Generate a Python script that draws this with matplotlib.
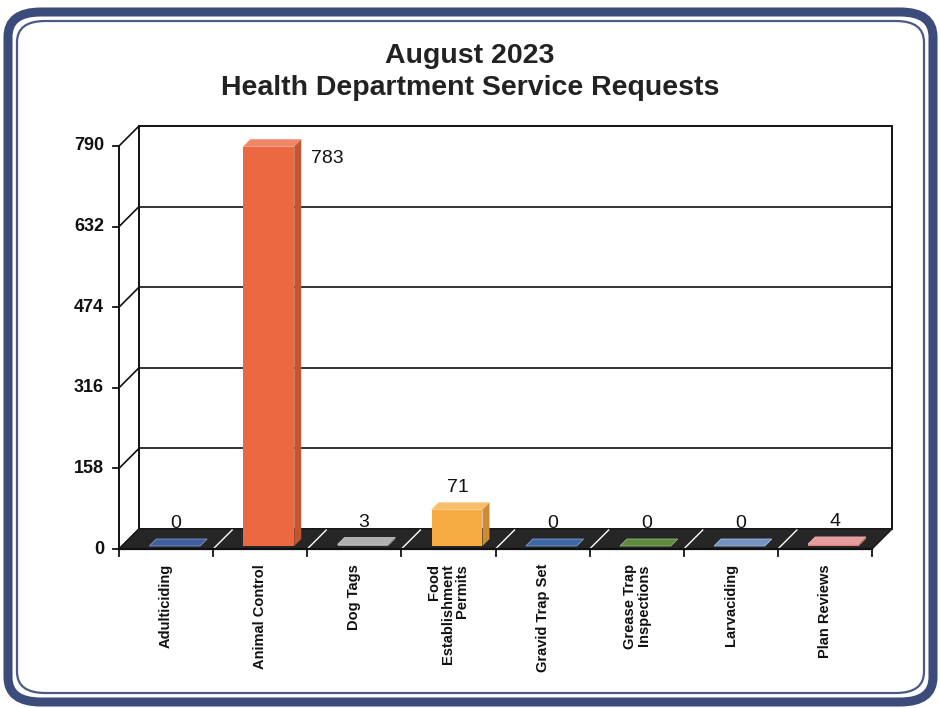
import matplotlib
matplotlib.use("Agg")
import matplotlib.pyplot as plt
import numpy as np
from matplotlib.patches import Polygon, FancyBboxPatch
from matplotlib.lines import Line2D
from matplotlib.transforms import ScaledTranslation, IdentityTransform

plt.rcParams['font.family'] = ['Liberation Sans', 'DejaVu Sans']

title = "August 2023\nHealth Department Service Requests"
categories = ["Adulticiding", "Animal Control", "Dog Tags", "Food\nEstablishment\nPermits",
              "Gravid Trap Set", "Grease Trap\nInspections", "Larvaciding", "Plan Reviews"]
values = [0, 783, 3, 71, 0, 0, 0, 4]
yticks = [0, 158, 316, 474, 632, 790]
front_colors = ["#3e5f9e", "#ec6840", "#9c9c9c", "#f6ac42", "#3d68a8", "#5d8a3c", "#7592c4", "#e08484"]

DPI = 100
fig = plt.figure(figsize=(9.4, 7.08), dpi=DPI)
fig.patch.set_facecolor("white")

W, H = 940, 708
def fx(px): return px / W
def fy(py): return 1 - py / H

outer = FancyBboxPatch((fx(8), fy(702)), fx(925), 690 / H,
                       boxstyle="round,pad=0,rounding_size=0.035", transform=fig.transFigure,
                       facecolor="white", edgecolor="#3c4c7a", lw=6.5, zorder=-2)
fig.add_artist(outer)
inner = FancyBboxPatch((fx(17), fy(693)), fx(907), 672 / H,
                       boxstyle="round,pad=0,rounding_size=0.03", transform=fig.transFigure,
                       facecolor="white", edgecolor="#4a5a84", lw=1.6, zorder=-1)
fig.add_artist(inner)

lines_t = title.split("\n")
fig.text(0.5, fy(63), lines_t[0], ha="center", va="baseline", fontsize=20.5,
         fontweight="bold", color="#222222")
fig.text(0.5, fy(95), lines_t[1], ha="center", va="baseline",
         fontsize=20.5, fontweight="bold", color="#222222")

ax = fig.add_axes([fx(119), fy(549), 753 / W, 403 / H])
ax.set_zorder(1)
ax.set_xlim(0, len(categories))
ax.set_ylim(0, yticks[-1])
ax.axis("off")

DEPTH = 20   # px depth of the 3D box
D0 = 3       # bar front depth
BD = 7       # bar depth
n = len(categories)
ymax = yticks[-1]
lc = "#111111"

def P(x, v, d=0.0):
    px = ax.transData.transform((x, v))
    return (px[0] + d, px[1] + d)

def poly(pts, **kw):
    p = Polygon(pts, closed=True, transform=IdentityTransform(), clip_on=False, **kw)
    ax.add_patch(p)
    return p

def line(p1, p2, **kw):
    l = Line2D([p1[0], p2[0]], [p1[1], p2[1]], transform=IdentityTransform(), clip_on=False, **kw)
    ax.add_line(l)

# back wall
poly([P(0, 0, DEPTH), P(n, 0, DEPTH), P(n, ymax, DEPTH), P(0, ymax, DEPTH)],
     facecolor="white", edgecolor=lc, lw=1.4, zorder=1)
for t in yticks[1:-1]:
    line(P(0, t, DEPTH), P(n, t, DEPTH), color=lc, lw=1.2, zorder=2)
for t in yticks:
    line(P(0, t), P(0, t, DEPTH), color=lc, lw=1.2, zorder=2)
line(P(0, 0), P(0, ymax), color=lc, lw=1.4, zorder=6)

# floor
poly([P(0, 0), P(n, 0), P(n, 0, DEPTH), P(0, 0, DEPTH)], facecolor="#262626",
     edgecolor="#1a1a1a", lw=1.0, zorder=3)
for i in range(1, n):
    line(P(i, 0, 1), P(i, 0, DEPTH - 1), color="white", lw=1.0, zorder=4)
line(P(0, 0), P(n, 0), color=lc, lw=1.6, zorder=6)

# ticks
for t in yticks:
    a = P(0, t)
    line((a[0] - 6, a[1]), a, color=lc, lw=1.3, zorder=6)
    ax.text(0, t, str(t), ha="right", va="center", fontsize=13, fontweight="bold",
            color="#111111",
            transform=ax.transData + ScaledTranslation(-15 / DPI, 0, fig.dpi_scale_trans))
for i in range(n + 1):
    a = P(i, 0)
    line(a, (a[0], a[1] - 7), color=lc, lw=1.3, zorder=6)

# category labels
for i, c in enumerate(categories):
    ax.text(i + 0.5, 0, c, rotation=90, ha="center", va="top", multialignment="right",
            fontsize=10.5, fontweight="bold", color="#111111", linespacing=1.0,
            transform=ax.transData + ScaledTranslation(0, -15 / DPI, fig.dpi_scale_trans))

def shade(c, f):
    rgb = np.array(matplotlib.colors.to_rgb(c))
    if f < 1:
        return tuple(rgb * f)
    return tuple(rgb + (1 - rgb) * (f - 1))

x0, bw = 0.29, 0.54
bars = ax.bar([i + x0 for i in range(n)], values, width=bw, align="edge",
              color=front_colors, edgecolor="none", zorder=5,
              transform=ax.transData + ScaledTranslation(D0 / DPI, D0 / DPI, fig.dpi_scale_trans))
for b in bars:
    b.set_clip_on(False)

for i, v in enumerate(values):
    c = front_colors[i]
    xl, xr = i + x0, i + x0 + bw
    poly([P(xl, v, D0), P(xr, v, D0), P(xr, v, D0 + BD), P(xl, v, D0 + BD)],
         facecolor=shade(c, 1.2) if v > 0 else c, edgecolor=shade(c, 1.35), lw=0.6, zorder=5)
    if v > 0:
        poly([P(xr, 0, D0), P(xr, 0, D0 + BD), P(xr, v, D0 + BD), P(xr, v, D0)],
             facecolor=shade(c, 0.82), edgecolor="none", zorder=5)
    top = P(i + x0 + bw / 2, v, D0)
    if v > 0.9 * ymax:
        r = P(xr, v, D0)
        ax.text(r[0] + 17, top[1] - 12, str(v), ha="left", va="center",
                fontsize=14, color="#111111", transform=IdentityTransform())
    else:
        ax.text(top[0] + 1, top[1] + 22, str(v), ha="center", va="center",
                fontsize=14, color="#111111", transform=IdentityTransform())

fig.savefig("out.png", dpi=DPI)
